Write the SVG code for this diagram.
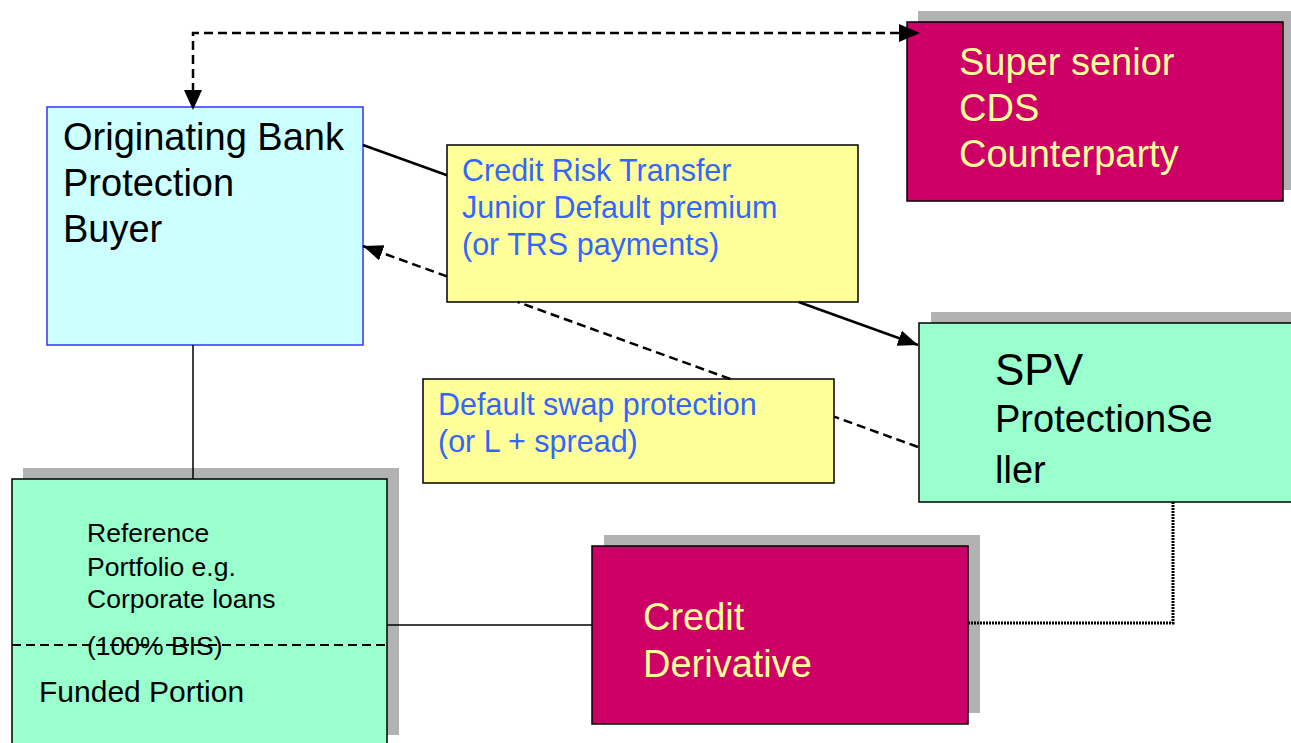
<svg xmlns="http://www.w3.org/2000/svg" width="1291" height="743" viewBox="0 0 1291 743">
<defs>
<marker id="arr" markerUnits="userSpaceOnUse" markerWidth="22" markerHeight="18" refX="20" refY="8" orient="auto-start-reverse"><path d="M0,0 L20,8 L0,16 z" fill="#000"/></marker>
<style>
text{font-family:"Liberation Sans",Arial,sans-serif;}
.shadow{fill:#B2B2B2;stroke:none;}
.box{stroke:#000;stroke-width:1.5;}
.mag{fill:#CC0066;}
.grn{fill:#99FFCC;}
.yel{fill:#FFFF99;stroke:#000;stroke-width:1.5;}
.ytxt{fill:#FFFF99;font-size:38px;}
.btxt{fill:#000;}
.bluetxt{fill:#3366FF;font-size:30.5px;}
.dash{fill:none;stroke:#000;stroke-width:2.5;stroke-dasharray:9 5;}
.solid{fill:none;stroke:#000;stroke-width:2.5;}
.thin{fill:none;stroke:#000;stroke-width:1.5;}
.dot{fill:none;stroke:#000;stroke-width:3;stroke-dasharray:2 1;}
</style>
</defs>
<rect width="1291" height="743" fill="#fff"/>
<g id="originating-bank">
<rect x="47" y="107" width="316" height="238" fill="#CCFFFF" stroke="#3333FF" stroke-width="1.5"/>
<text class="btxt" font-size="38"><tspan x="63" y="150">Originating Bank</tspan><tspan x="63" y="196">Protection</tspan><tspan x="63" y="242">Buyer</tspan></text>
</g>
<g id="super-senior">
<rect class="shadow" x="918" y="11" width="373" height="179"/>
<rect class="box mag" x="907" y="22" width="376" height="179"/>
<text class="ytxt"><tspan x="959" y="75">Super senior</tspan><tspan x="959" y="121">CDS</tspan><tspan x="959" y="167">Counterparty</tspan></text>
</g>
<g id="crt-label">
<rect class="yel" x="447" y="145" width="411" height="157"/>
<text class="bluetxt"><tspan x="462" y="181">Credit Risk Transfer</tspan><tspan x="462" y="218">Junior Default premium</tspan><tspan x="462" y="255">(or TRS payments)</tspan></text>
</g>
<g id="dsp-label">
<rect class="yel" x="423" y="379" width="411" height="104"/>
<text class="bluetxt"><tspan x="438" y="415">Default swap protection</tspan><tspan x="438" y="452">(or L + spread)</tspan></text>
</g>
<g id="spv">
<rect class="shadow" x="931" y="312" width="370" height="179"/>
<rect class="box grn" x="919" y="323" width="380" height="179"/>
<text class="btxt" x="995" y="385" font-size="44">SPV</text>
<text class="btxt" font-size="38"><tspan x="995" y="432">ProtectionSe</tspan><tspan x="995" y="483">ller</tspan></text>
</g>
<g id="credit-derivative">
<rect class="shadow" x="604" y="535" width="376" height="178"/>
<rect class="box mag" x="592" y="546" width="376" height="178"/>
<text class="ytxt"><tspan x="643" y="630">Credit</tspan><tspan x="643" y="677">Derivative</tspan></text>
</g>
<g id="reference-portfolio">
<rect class="shadow" x="23" y="468" width="376" height="267"/>
<rect class="box grn" x="12" y="479" width="375" height="280"/>
<text class="btxt" font-size="26.5"><tspan x="87" y="542">Reference</tspan><tspan x="87" y="576">Portfolio e.g.</tspan><tspan x="87" y="608">Corporate loans</tspan><tspan x="87" y="655">(100% BIS)</tspan></text>
<line x1="12" y1="645" x2="386" y2="645" stroke="#000" stroke-width="2" stroke-dasharray="9 5"/>
<text class="btxt" x="39" y="702" font-size="30">Funded Portion</text>
</g>
<g id="connectors">
<path class="dash" d="M899,33 L193,33 L193,90" />
<path d="M899,24 L920,33 L899,42 z" fill="#000"/>
<path d="M184,90 L193,110 L202,90 z" fill="#000"/>
<line class="solid" x1="363" y1="145" x2="447" y2="175.3"/>
<line class="solid" x1="798.6" y1="302" x2="918" y2="345" marker-end="url(#arr)"/>
<line class="dash" x1="918" y1="447" x2="834" y2="416.6"/>
<line class="dash" x1="730.3" y1="379" x2="517.7" y2="302"/>
<line class="dash" x1="447" y1="276.4" x2="363" y2="246" marker-end="url(#arr)"/>
<line class="thin" x1="193" y1="345" x2="193" y2="479"/>
<line class="thin" x1="387" y1="625" x2="592" y2="625"/>
<path class="dot" d="M1173,502 L1173,623 L968,623"/>
</g>
</svg>
